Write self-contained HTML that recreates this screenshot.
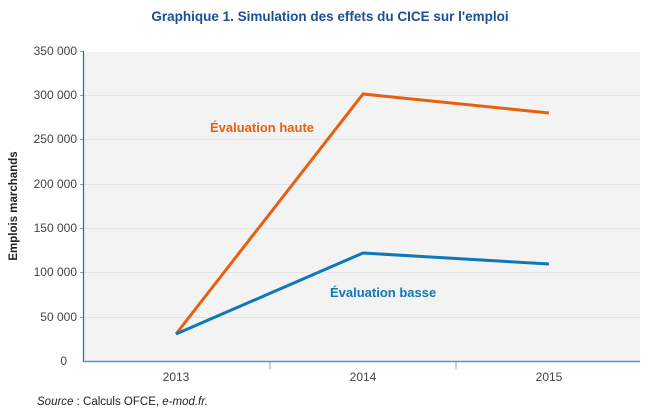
<!DOCTYPE html>
<html><head><meta charset="utf-8"><style>
body{margin:0;background:#fff;width:650px;height:414px;overflow:hidden}
svg{display:block;font-family:"Liberation Sans",sans-serif}
</style></head><body>
<svg width="650" height="414" viewBox="0 0 650 414">
<text x="330" y="21" text-anchor="middle" font-size="13.5" font-weight="bold" fill="#1c4f96">Graphique 1. Simulation des effets du CICE sur l'emploi</text>
<rect x="84" y="52" width="556" height="309" fill="#f3f3f3"/>
<g stroke="#e2e2e2" stroke-width="1">
<line x1="84" y1="95.5" x2="640" y2="95.5"/>
<line x1="84" y1="139.5" x2="640" y2="139.5"/>
<line x1="84" y1="184.5" x2="640" y2="184.5"/>
<line x1="84" y1="228.5" x2="640" y2="228.5"/>
<line x1="84" y1="272.5" x2="640" y2="272.5"/>
<line x1="84" y1="317.5" x2="640" y2="317.5"/>
</g>
<g stroke="#999" stroke-width="1">
<line x1="80" y1="51.5" x2="84" y2="51.5"/><line x1="80" y1="95.5" x2="84" y2="95.5"/>
<line x1="80" y1="139.5" x2="84" y2="139.5"/><line x1="80" y1="184.5" x2="84" y2="184.5"/>
<line x1="80" y1="228.5" x2="84" y2="228.5"/><line x1="80" y1="272.5" x2="84" y2="272.5"/>
<line x1="80" y1="317.5" x2="84" y2="317.5"/>
<line x1="270" y1="362" x2="270" y2="369"/><line x1="456" y1="362" x2="456" y2="369"/>
</g>
<line x1="83.5" y1="51" x2="83.5" y2="362" stroke="#1f6fae" stroke-width="1.2"/>
<line x1="83" y1="361.5" x2="640" y2="361.5" stroke="#4a9ccc" stroke-width="1.5"/>
<g font-size="12" fill="#444" text-anchor="end">
<text x="77" y="55">350 000</text><text x="77" y="99">300 000</text>
<text x="77" y="143">250 000</text><text x="77" y="188">200 000</text>
<text x="77" y="232">150 000</text><text x="77" y="276">100 000</text>
<text x="77" y="321">50 000</text><text x="67" y="365">0</text>
</g>
<g font-size="12" fill="#444" text-anchor="middle">
<text x="176" y="381">2013</text><text x="363" y="381">2014</text><text x="549" y="381">2015</text>
</g>
<text transform="translate(17,206) rotate(-90)" text-anchor="middle" font-size="11.5" font-weight="bold" fill="#222">Emplois marchands</text>
<polyline points="176,334 363,94 549,113" fill="none" stroke="#e8600f" stroke-width="3"/>
<polyline points="176,334 363,253 549,264" fill="none" stroke="#0f78b8" stroke-width="3"/>
<text x="210" y="132" font-size="13" font-weight="bold" fill="#e8600f">Évaluation haute</text>
<text x="330" y="297" font-size="13" font-weight="bold" fill="#0f78b8">Évaluation basse</text>
<text x="37" y="405" font-size="11.5" fill="#222"><tspan font-style="italic">Source</tspan> : Calculs OFCE, <tspan font-style="italic">e-mod.fr.</tspan></text>
</svg>
</body></html>
